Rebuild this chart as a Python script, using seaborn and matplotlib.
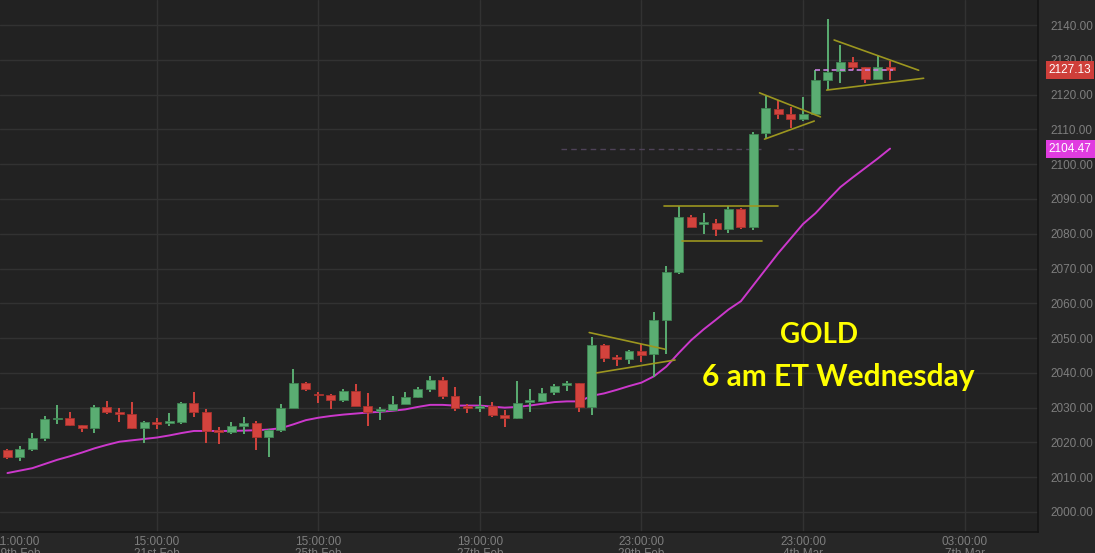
import numpy as np
import pandas as pd
import matplotlib
matplotlib.use("Agg")
import matplotlib.pyplot as plt
import matplotlib.transforms as mtransforms
import seaborn as sns

# ---------------- data (4h GOLD candles) ----------------
opens = [2017.8, 2015.9, 2018.1, 2021.2, 2026.6, 2027.1, 2024.9, 2024.1, 2030.3, 2028.7,
         2028.1, 2024.1, 2025.8, 2025.5, 2026.0, 2031.2, 2028.7, 2023.3, 2022.9, 2024.7,
         2025.5, 2021.5, 2023.5, 2030.0, 2037.2, 2033.9, 2033.7, 2032.3, 2034.9, 2030.6,
         2028.9, 2029.4, 2031.1, 2033.1, 2035.3, 2037.9, 2033.4, 2030.3, 2029.9, 2030.5,
         2027.8, 2026.9, 2031.5, 2032.0, 2034.6, 2036.4, 2037.1, 2030.1, 2047.9, 2044.4,
         2044.1, 2046.3, 2045.3, 2055.1, 2069.1, 2084.9, 2082.7, 2083.2, 2081.3, 2087.2,
         2081.8, 2109.0, 2115.8, 2114.3, 2112.9, 2114.3, 2124.2, 2126.7, 2129.3, 2127.8,
         2124.6, 2128.0]
highs = [2018.0, 2019.0, 2022.6, 2027.6, 2030.8, 2028.7, 2025.0, 2030.8, 2032.0, 2029.8,
         2031.5, 2026.3, 2026.9, 2028.4, 2031.7, 2034.5, 2029.6, 2024.3, 2025.8, 2027.2,
         2026.2, 2024.0, 2031.0, 2041.1, 2037.3, 2034.5, 2033.8, 2035.3, 2036.8, 2034.3,
         2030.2, 2033.4, 2034.4, 2035.9, 2039.1, 2038.8, 2036.0, 2031.0, 2033.4, 2031.7,
         2029.2, 2037.7, 2035.4, 2035.7, 2036.9, 2037.7, 2037.1, 2050.4, 2048.2, 2045.0,
         2046.6, 2048.3, 2057.4, 2070.7, 2088.0, 2085.3, 2085.9, 2084.1, 2088.0, 2087.4,
         2109.2, 2119.6, 2118.4, 2116.5, 2119.4, 2127.0, 2141.7, 2134.4, 2130.7, 2127.8,
         2131.4, 2129.7]
lows = [2015.2, 2014.7, 2017.6, 2020.4, 2025.3, 2024.7, 2023.0, 2022.8, 2028.1, 2025.8,
        2023.8, 2019.9, 2023.8, 2024.7, 2025.3, 2027.2, 2019.7, 2019.5, 2022.4, 2022.4,
        2017.8, 2015.9, 2023.0, 2029.8, 2034.8, 2031.4, 2029.6, 2031.6, 2030.4, 2024.8,
        2026.4, 2029.4, 2031.0, 2032.7, 2034.5, 2032.6, 2029.1, 2028.5, 2028.8, 2027.4,
        2024.4, 2026.6, 2028.8, 2031.8, 2033.7, 2034.8, 2028.7, 2027.9, 2043.2, 2042.0,
        2042.5, 2043.2, 2038.9, 2045.4, 2068.5, 2081.8, 2079.9, 2079.3, 2080.1, 2081.5,
        2081.0, 2107.2, 2112.9, 2110.3, 2112.5, 2114.2, 2121.3, 2123.4, 2127.0, 2123.4,
        2124.6, 2124.2]
closes = [2015.9, 2018.1, 2021.2, 2026.6, 2027.1, 2025.0, 2024.1, 2030.3, 2028.7, 2028.1,
          2024.1, 2025.8, 2025.4, 2026.0, 2031.2, 2028.7, 2023.3, 2022.9, 2024.6, 2025.5,
          2021.5, 2023.5, 2030.0, 2037.2, 2035.3, 2033.5, 2032.3, 2034.9, 2030.6, 2028.8,
          2029.6, 2031.1, 2033.1, 2035.3, 2037.9, 2033.4, 2030.0, 2029.8, 2030.5, 2027.8,
          2026.9, 2031.4, 2032.1, 2034.3, 2036.2, 2037.1, 2030.1, 2047.9, 2044.4, 2043.9,
          2046.3, 2045.1, 2055.1, 2069.1, 2084.9, 2081.9, 2083.3, 2081.3, 2087.2, 2081.8,
          2108.8, 2116.2, 2114.3, 2112.9, 2114.3, 2124.2, 2126.5, 2129.3, 2128.0, 2124.6,
          2128.0, 2127.13]
# moving average line
ma_values = [2011.2, 2011.9, 2012.6, 2013.8, 2015.0, 2016.0, 2017.1, 2018.3, 2019.3, 2020.2,
             2020.6, 2021.0, 2021.4, 2022.0, 2022.7, 2023.3, 2023.3, 2023.3, 2023.3, 2023.4,
             2023.5, 2023.7, 2024.1, 2025.2, 2026.4, 2027.1, 2027.6, 2028.0, 2028.3, 2028.6,
             2028.8, 2029.1, 2029.5, 2030.2, 2030.8, 2030.8, 2030.6, 2030.6, 2030.6, 2030.3,
             2030.0, 2030.2, 2030.6, 2031.1, 2031.6, 2031.8, 2031.8, 2033.4, 2034.1, 2035.1,
             2036.2, 2037.2, 2039.0, 2041.8, 2045.7, 2049.4, 2052.5, 2055.3, 2058.2, 2060.6,
             2065.2, 2069.8, 2074.4, 2078.6, 2082.8, 2085.9, 2089.7, 2093.4, 2096.2, 2098.9,
             2101.6, 2104.47]

tick_positions = [0.77, 12, 25, 38, 51, 64, 77]
tick_labels = ["11:00:00\n19th Feb", "15:00:00\n21st Feb", "15:00:00\n25th Feb",
               "19:00:00\n27th Feb", "23:00:00\n29th Feb", "23:00:00\n4th Mar",
               "03:00:00\n7th Mar"]
y_ticks = list(range(2000, 2141, 10))

# pattern lines: (x0, y0, x1, y1) in candle index / price
pattern_lines = [
    (46.8, 2051.6, 52.9, 2046.8), (47.4, 2040.0, 53.7, 2043.7),
    (52.8, 2088.0, 62.0, 2088.0), (54.3, 2078.0, 60.7, 2078.0),
    (60.5, 2120.5, 65.4, 2113.6), (60.9, 2107.2, 64.9, 2112.4),
    (66.5, 2135.7, 73.3, 2127.0), (65.9, 2121.3, 73.7, 2124.7),
]
last_price = 2127.13
ma_last = 2104.47

df = pd.DataFrame({"open": opens, "high": highs, "low": lows, "close": closes, "ma": ma_values})
df["idx"] = np.arange(len(df))

# ---------------- style ----------------
sns.set_theme(style="dark")
BG_AX = "#222222"
BG_FIG = "#272727"
GRID = "#323232"
TXT = "#7e7e7e"
GREEN = "#5aad72"
GREEN_E = "#3f8553"
RED = "#d3433d"
RED_E = "#a8322e"
plt.rcParams["font.family"] = ["Liberation Sans", "DejaVu Sans"]

fig = plt.figure(figsize=(10.95, 5.53), dpi=100, facecolor=BG_FIG)
ax = fig.add_axes([0.0, 1 - 532 / 553, 1038 / 1095, 532 / 553])
ax.set_facecolor(BG_AX)

# grid
for yv in y_ticks:
    ax.axhline(yv, color=GRID, lw=1.0, zorder=0)
for xv in tick_positions[1:]:
    ax.axvline(xv, color=GRID, lw=1.0, zorder=0)

# dashed price lines
ax.plot([44.5, 60.6], [ma_last, ma_last], color="#4e4258", lw=1.0, ls=(0, (4, 3)), zorder=1)
ax.plot([62.8, 64.0], [ma_last, ma_last], color="#4e4258", lw=1.0, ls=(0, (4, 3)), zorder=1)

# moving average
sns.lineplot(data=df, x="idx", y="ma", color="#cc38cc", lw=1.4, ax=ax, zorder=2)

# candles
up = df["close"] >= df["open"]
for sel, fc, ec in [(up, GREEN, GREEN_E), (~up, RED, RED_E)]:
    d = df[sel]
    ax.vlines(d["idx"], d["low"], d["high"], color=fc, lw=1.4, zorder=3)
    body = np.maximum((d["close"] - d["open"]).abs(), 0.55)
    bottom = np.minimum(d["open"], d["close"])
    ax.bar(d["idx"], body, bottom=bottom, width=0.72, color=fc, edgecolor=ec,
           linewidth=0.6, zorder=4)

# last price dashed
ax.plot([65.0, 71.2], [last_price, last_price], color="#c97fe0", lw=1.2, ls=(0, (3, 2)), zorder=5)

# pattern lines
for (x0, y0, x1, y1) in pattern_lines:
    ax.plot([x0, x1], [y0, y1], color="#9c961f", lw=1.2, zorder=6)

# annotation
ax.text(65.3, 2050.9, "GOLD", color="#ffff00", fontsize=20, fontweight="bold",
        family=["Lato", "DejaVu Sans"], ha="center", va="center", zorder=7)
ax.text(66.8, 2038.8, "6 am ET Wednesday", color="#ffff00", fontsize=21.5, fontweight="bold",
        family=["Lato", "DejaVu Sans"], ha="center", va="center", zorder=7)

# axes
ax.set_xlim(-0.6, 82.9)
ax.set_ylim(1994.25, 2147.2)
ax.yaxis.tick_right()
ax.set_yticks(y_ticks)
ax.set_yticklabels([f"{v:.2f}" for v in y_ticks])
ax.set_xticks(tick_positions)
ax.set_xticklabels(tick_labels, linespacing=0.95)
ax.tick_params(axis="y", length=0, pad=9, labelsize=8.5, colors=TXT)
ax.tick_params(axis="x", length=0, pad=3, labelsize=8.5, colors=TXT)
ax.set_xlabel("")
ax.set_ylabel("")
ax.grid(False)
for s in ["top", "left"]:
    ax.spines[s].set_visible(False)
for s in ["bottom", "right"]:
    ax.spines[s].set_color("#141414")
    ax.spines[s].set_linewidth(1.2)

# right-side value boxes
trans = mtransforms.blended_transform_factory(ax.transAxes, ax.transData)
ax.text(1.0105, last_price, f"{last_price:.2f}", transform=trans, color="white", fontsize=8.5,
        ha="left", va="center", zorder=10, clip_on=False,
        bbox=dict(boxstyle="square,pad=0.25", fc="#cf3f3a", ec="none"))
ax.text(1.0105, ma_last, f"{ma_last:.2f}", transform=trans, color="white", fontsize=8.5,
        ha="left", va="center", zorder=10, clip_on=False,
        bbox=dict(boxstyle="square,pad=0.25", fc="#e03ce0", ec="none"))

fig.savefig("out.png", dpi=100, facecolor=BG_FIG)
